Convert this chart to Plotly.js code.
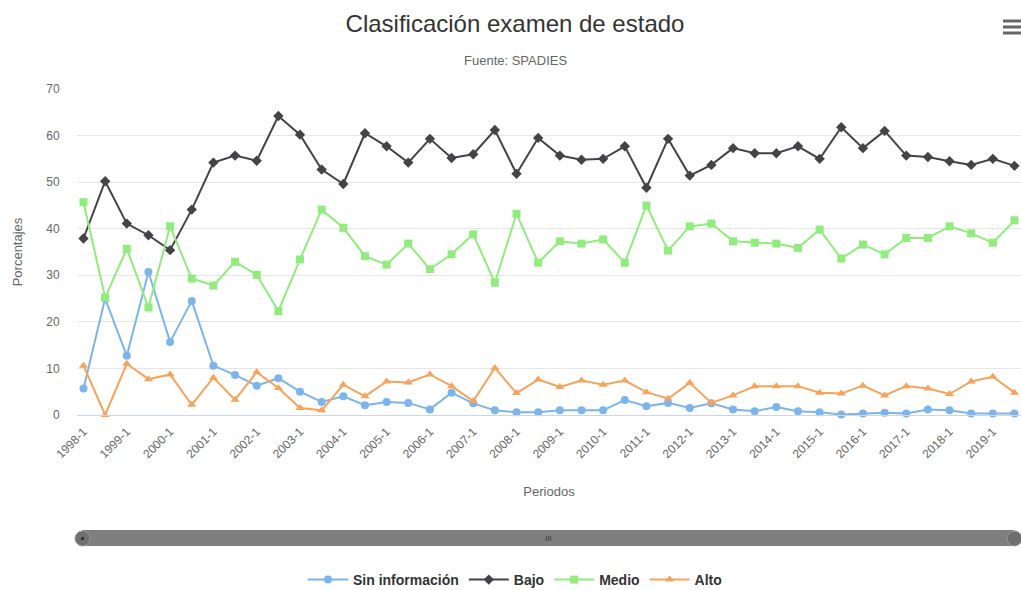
<!DOCTYPE html>
<html>
<head>
<meta charset="utf-8">
<script src="https://cdn.plot.ly/plotly-3.0.1.min.js"></script>
<style>html,body{margin:0;padding:0;background:#fff;}#chart{width:1021px;height:590px;}</style>
</head>
<body>
<div id="chart"></div>
<script>
const periodos = [];
for (let y = 1998; y <= 2019; y++) { periodos.push(y + '-1'); periodos.push(y + '-2'); }
const tickLabels = periodos.filter(p => p.endsWith('-1'));

const sinInformacion = [5.7, 25.0, 12.7, 30.7, 15.7, 24.5, 10.6, 8.6, 6.3, 7.9, 5.0, 2.8,
  4.0, 2.1, 2.8, 2.6, 1.2, 4.8, 2.5, 1.0, 0.6, 0.6, 1.0, 1.0, 1.0, 3.2, 1.9, 2.6,
  1.5, 2.5, 1.2, 0.8, 1.7, 0.8, 0.6, 0.1, 0.3, 0.5, 0.3, 1.2, 1.0, 0.3, 0.3, 0.3];
const bajo = [37.9, 50.2, 41.1, 38.6, 35.4, 44.1, 54.2, 55.7, 54.6, 64.2, 60.2, 52.7,
  49.6, 60.5, 57.7, 54.2, 59.3, 55.2, 56.0, 61.2, 51.8, 59.5, 55.7, 54.8, 55.0, 57.7, 48.8, 59.3,
  51.4, 53.7, 57.3, 56.2, 56.2, 57.7, 55.0, 61.8, 57.3, 61.0, 55.7, 55.4, 54.5, 53.7, 55.0, 53.5];
const medio = [45.7, 25.2, 35.7, 23.1, 40.5, 29.3, 27.8, 32.9, 30.1, 22.3, 33.4, 44.1,
  40.2, 34.1, 32.3, 36.8, 31.3, 34.5, 38.8, 28.4, 43.2, 32.7, 37.3, 36.8, 37.7, 32.7, 45.0, 35.3,
  40.5, 41.1, 37.3, 37.0, 36.8, 35.9, 39.8, 33.6, 36.6, 34.5, 38.0, 38.0, 40.5, 39.0, 37.0, 41.8];
const alto = [10.6, 0.0, 11.0, 7.7, 8.7, 2.2, 8.0, 3.3, 9.2, 5.8, 1.5, 1.0,
  6.5, 4.0, 7.2, 7.0, 8.7, 6.2, 3.0, 10.1, 4.7, 7.6, 6.0, 7.4, 6.5, 7.4, 4.9, 3.5,
  6.9, 2.6, 4.2, 6.2, 6.2, 6.2, 4.8, 4.6, 6.3, 4.2, 6.2, 5.7, 4.5, 7.2, 8.2, 4.8];

const seriesNames = ['Sin información', 'Bajo', 'Medio', 'Alto'];
const seriesData = [sinInformacion, bajo, medio, alto];
const colors = ['#7cb5ec', '#434348', '#90ed7d', '#f7a35c'];
const symbols = ['circle', 'diamond', 'square', 'triangle-up'];
const sizes = [8, 8, 8, 8];

const traces = seriesData.map((vals, i) => ({
  type: 'scatter', mode: 'lines+markers', name: seriesNames[i],
  x: periodos, y: vals,
  line: {color: colors[i], width: 2},
  marker: {color: colors[i], symbol: symbols[i], size: sizes[i]},
  cliponaxis: false
}));

const W = 1021, H = 590, L = 77, R = 0, T = 89, B = 175;
const pw = W - L - R, ph = H - T - B;
const px = v => (v - L) / pw;
const py = v => (H - B - v) / ph;

const font = 'Liberation Sans, Arial, sans-serif';
const layout = {
  width: W, height: H,
  margin: {l: L, r: R, t: T, b: B, pad: 0, autoexpand: false},
  paper_bgcolor: '#fff', plot_bgcolor: '#fff',
  font: {family: font, color: '#666', size: 12},
  title: {text: 'Clasificación examen de estado', font: {family: font, size: 24, color: '#333'},
    xref: 'container', x: 515 / W, xanchor: 'center', yref: 'container', y: 1 - 24 / H, yanchor: 'middle'},
  showlegend: true,
  legend: {orientation: 'h', x: px(515), xanchor: 'center', yref: 'container', y: 1 - 580 / H, yanchor: 'middle',
    font: {family: font, size: 14, color: '#333', weight: 'bold'}, itemwidth: 40, tracegroupgap: 0},
  xaxis: {type: 'category', range: [-0.3, 43.3], tickvals: tickLabels, ticktext: tickLabels,
    tickangle: -45, tickfont: {size: 12, color: '#666'}, showgrid: false, zeroline: false,
    showline: true, linecolor: '#ccd6eb', ticks: 'outside', ticklen: 4, tickcolor: 'rgba(0,0,0,0)', automargin: false,
    title: {text: 'Periodos', font: {size: 13, color: '#666'}, standoff: 26}},
  yaxis: {range: [0, 70], dtick: 10, tick0: 0, showgrid: true, gridcolor: '#e6e6e6', zeroline: false,
    tickfont: {size: 12, color: '#666'}, ticks: 'outside', ticklen: 14, tickcolor: 'rgba(0,0,0,0)', automargin: false,
    title: {text: 'Porcentajes', font: {size: 13, color: '#666'}, standoff: 20}},
  annotations: [
    {text: 'Fuente: SPADIES', xref: 'paper', yref: 'paper', x: px(515), y: py(60), xanchor: 'center', yanchor: 'middle',
      showarrow: false, font: {family: font, size: 13, color: '#666'}},
    {text: 'III', xref: 'paper', yref: 'paper', x: px(548), y: py(538), xanchor: 'center', yanchor: 'middle',
      showarrow: false, font: {family: font, size: 8, color: '#333'}}
  ],
  shapes: [
    {type: 'rect', xref: 'paper', yref: 'paper', x0: px(82), x1: px(1014), y0: py(546), y1: py(530),
      fillcolor: '#7f7f7f', line: {width: 0}, layer: 'above'},
    {type: 'circle', xref: 'paper', yref: 'paper', x0: px(75), x1: px(90), y0: py(546), y1: py(531),
      fillcolor: '#6f6f6f', line: {width: 1, color: '#999'}, layer: 'above'},
    {type: 'circle', xref: 'paper', yref: 'paper', x0: px(81), x1: px(84), y0: py(540), y1: py(537),
      fillcolor: '#222', line: {width: 0}, layer: 'above'},
    {type: 'circle', xref: 'paper', yref: 'paper', x0: px(1007), x1: px(1022), y0: py(546), y1: py(531),
      fillcolor: '#6f6f6f', line: {width: 1, color: '#999'}, layer: 'above'},
    {type: 'line', xref: 'paper', yref: 'paper', x0: px(1003), x1: px(1021), y0: py(21), y1: py(21),
      line: {color: '#666', width: 3}},
    {type: 'line', xref: 'paper', yref: 'paper', x0: px(1003), x1: px(1021), y0: py(27), y1: py(27),
      line: {color: '#666', width: 3}},
    {type: 'line', xref: 'paper', yref: 'paper', x0: px(1003), x1: px(1021), y0: py(33), y1: py(33),
      line: {color: '#666', width: 3}}
  ]
};

Plotly.newPlot('chart', traces, layout, {displayModeBar: false, responsive: false});
</script>
</body>
</html>
